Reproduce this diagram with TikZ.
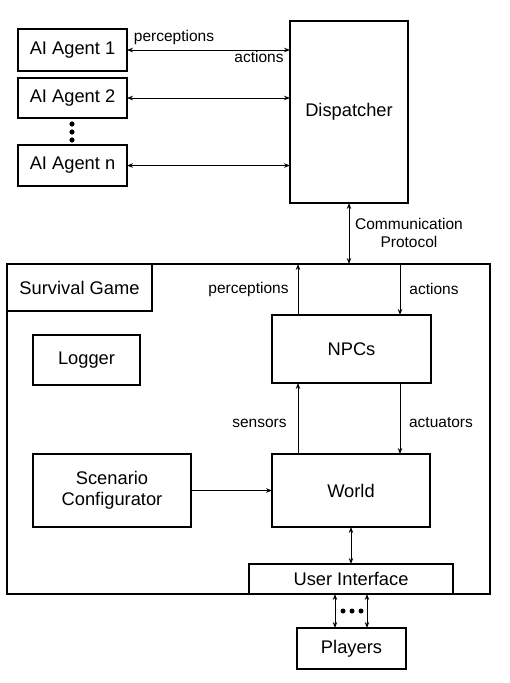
\documentclass[tikz,border=0pt]{standalone}
\usepackage{fontspec}
\setmainfont{Liberation Sans}
\usetikzlibrary{arrows.meta}
\begin{document}
\begin{tikzpicture}[x=1pt,y=-1pt,
  box/.style={draw, line width=1.8pt, inner sep=0pt, outer sep=0pt, align=center,
    font=\fontsize{18.3}{21.5}\selectfont},
  frame/.style={draw, line width=1.1pt, inner sep=0pt, outer sep=0pt,
    font=\fontsize{18.3}{21.5}\selectfont},
  lbl/.style={inner sep=0pt, align=center, font=\fontsize{15.5}{18}\selectfont},
  arr/.style={line width=0.9pt, -{Stealth[length=6pt,width=4.5pt]}},
  darr/.style={line width=0.9pt, {Stealth[length=6pt,width=4.5pt]}-{Stealth[length=6pt,width=4.5pt]}},
  dotc/.style={fill=black}
]
\useasboundingbox (0,0) rectangle (510,683);
% survival game frame
\node[frame, minimum width=483pt, minimum height=330pt] (game) at (248.5,429) {};
\node[frame, minimum width=145pt, minimum height=47pt] (title) at (79.5,287.5) {Survival Game};
% agents
\node[box, minimum width=109pt, minimum height=42pt] (a1) at (72.5,50) {AI Agent 1};
\node[box, minimum width=109pt, minimum height=40pt] (a2) at (72.5,98) {AI Agent 2};
\node[box, minimum width=109pt, minimum height=41pt] (an) at (72.5,165.5) {AI Agent n};
\node[box, minimum width=118pt, minimum height=182pt] (disp) at (349,112) {Dispatcher};
% inner boxes
\node[box, minimum width=159pt, minimum height=68pt] (npc) at (351.5,349) {NPCs};
\node[box, minimum width=107pt, minimum height=50pt] (log) at (86.5,360) {Logger};
\node[box, minimum width=158pt, minimum height=73pt] (scen) at (112,490.5) {Scenario\\Configurator};
\node[box, minimum width=158pt, minimum height=73pt] (world) at (351,490.5) {World};
\node[box, fill=white, minimum width=204pt, minimum height=30pt] (ui) at (351,579) {User Interface};
\node[box, minimum width=109pt, minimum height=41pt] (play) at (351.5,648.5) {Players};
% vertical dots
\fill[dotc] (72,124) circle (2.6pt) (72,132) circle (2.6pt) (72,140) circle (2.6pt);
% agent arrows
\draw[darr] (a1.east) -- (a1.east -| disp.west);
\draw[darr] (a2.east) -- (a2.east -| disp.west);
\draw[darr] (an.east) -- (an.east -| disp.west);
\node[lbl] (lp) at (174,37) {perceptions};
\node[lbl] (la) at (259,57) {actions};
% communication protocol
\draw[darr] (disp.south) -- (disp.south |- game.north);
\node[lbl] (lc) at (409,233) {Communication\\Protocol};
% npc arrows
\coordinate (pin) at (298,264);
\coordinate (ain) at (400,264);
\draw[arr] (npc.north -| pin) -- (pin);
\draw[arr] (ain) -- (npc.north -| ain);
\node[lbl] (lp2) at (248.5,289) {perceptions};
\node[lbl] (la2) at (434,289) {actions};
\draw[arr] (world.north -| pin) -- (npc.south -| pin);
\draw[arr] (npc.south -| ain) -- (world.north -| ain);
\node[lbl] (ls) at (259.5,423) {sensors};
\node[lbl] (lac) at (441,423) {actuators};
% world links
\draw[arr] (scen.east) -- (world.west);
\draw[darr] (world.south) -- (ui.north);
\coordinate (p1) at (335,610);
\coordinate (p2) at (367,610);
\draw[darr] (ui.south -| p1) -- (play.north -| p1);
\draw[darr] (ui.south -| p2) -- (play.north -| p2);
\fill[dotc] (343,611) circle (2.5pt) (352,611) circle (2.5pt) (361,611) circle (2.5pt);
\end{tikzpicture}
\end{document}
